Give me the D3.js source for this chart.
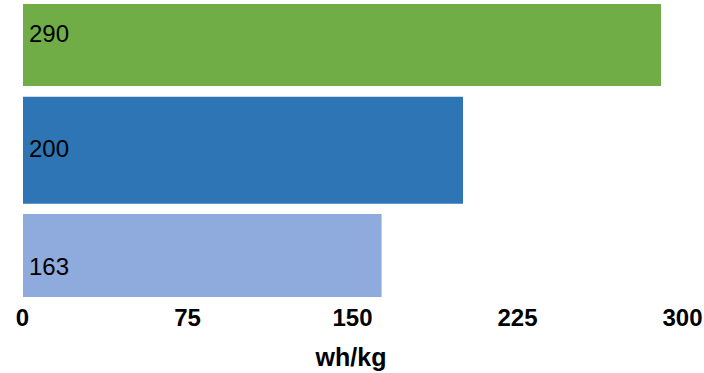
<!DOCTYPE html>
<html>
<head>
<meta charset="utf-8">
<script src="https://cdn.jsdelivr.net/npm/d3@7"></script>
<style>
  html, body { margin: 0; padding: 0; background: #fff; }
  svg { display: block; }
</style>
</head>
<body>
<svg id="chart" width="704" height="373"></svg>
<script>
// Energy density per cell type (wh/kg)
const categories = ["Cell A", "Cell B", "Cell C"];
const values = [290, 200, 163];
const tickValues = [0, 75, 150, 225, 300];
const axisTitle = "wh/kg";

// Layout: per-bar thickness and label baseline offset from bar centre
const barColors = ["#70AD47", "#2E75B6", "#8FAADC"];
const barThickness = [82, 107, 83];
const labelDy = [-3.5, 7.2, 19.5];

const svg = d3.select("#chart");

const x = d3.scaleLinear().domain([0, 300]).range([23, 683]);
const y = d3.scalePoint().domain(categories).range([45, 255.5]);

const rows = categories.map((c, i) => ({ c, v: values[i], i }));

svg.append("g").selectAll("rect")
  .data(rows)
  .join("rect")
  .attr("x", x(0))
  .attr("y", d => y(d.c) - barThickness[d.i] / 2)
  .attr("width", d => x(d.v) - x(0))
  .attr("height", d => barThickness[d.i])
  .attr("fill", d => barColors[d.i]);

svg.append("g").selectAll("text")
  .data(rows)
  .join("text")
  .attr("x", x(0) + 6)
  .attr("y", d => y(d.c) + labelDy[d.i])
  .attr("font-family", "Liberation Sans, Arial, sans-serif")
  .attr("font-size", 24)
  .attr("fill", "#000")
  .text(d => d.v);

// Bottom axis: labels only, no domain line or tick marks
const axis = d3.axisBottom(x).tickValues(tickValues).tickSize(0).tickPadding(0);
const gx = svg.append("g").attr("transform", "translate(-1,309)").call(axis);
gx.select(".domain").remove();
gx.selectAll("text")
  .attr("dy", null)
  .attr("y", 17)
  .attr("font-family", "Liberation Sans, Arial, sans-serif")
  .attr("font-size", 24)
  .attr("font-weight", "bold")
  .attr("fill", "#000");

svg.append("text")
  .attr("x", 351)
  .attr("y", 366)
  .attr("text-anchor", "middle")
  .attr("font-family", "Liberation Sans, Arial, sans-serif")
  .attr("font-size", 25)
  .attr("font-weight", "bold")
  .attr("fill", "#000")
  .text(axisTitle);
</script>
</body>
</html>
